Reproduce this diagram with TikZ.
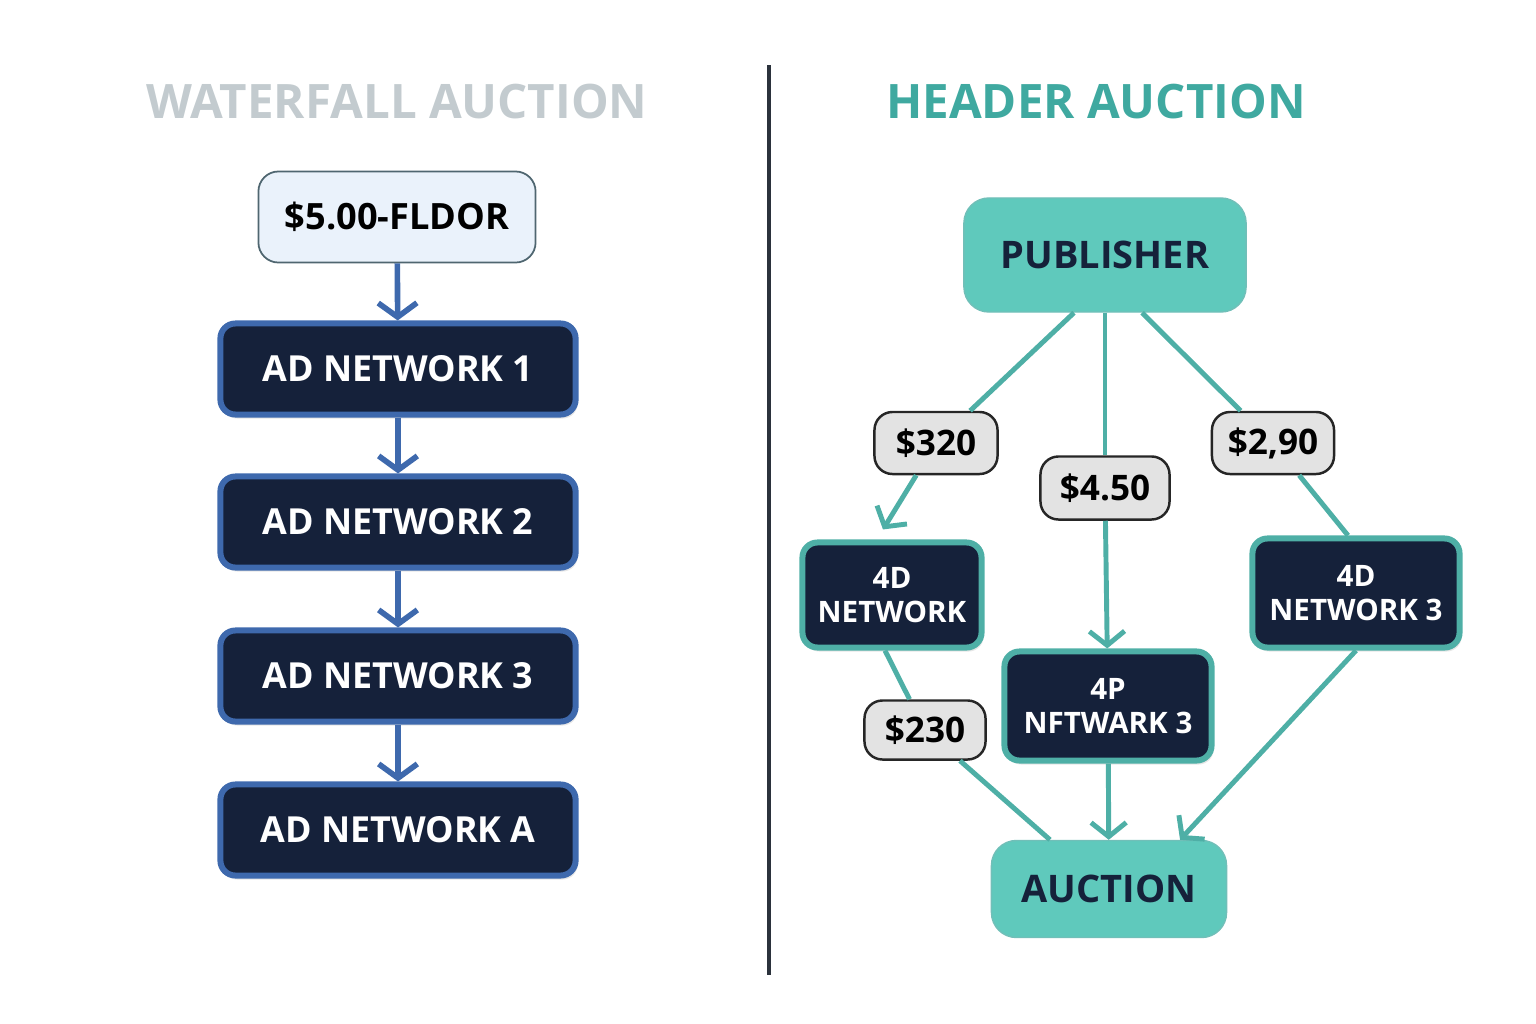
\documentclass[tikz,border=0pt]{standalone}
\usepackage{fontspec}
\setmainfont{Open Sans}
\usetikzlibrary{arrows.meta,shadows}

\definecolor{titlegray}{HTML}{C3CBCF}
\definecolor{headteal}{HTML}{3FA9A0}
\definecolor{darkfill}{HTML}{15213A}
\definecolor{blueedge}{HTML}{3E69AD}
\definecolor{tealedge}{HTML}{4EAFA6}
\definecolor{tealfill}{HTML}{5FC9BC}
\definecolor{labelfill}{HTML}{E3E3E3}
\definecolor{floorfill}{HTML}{EAF2FB}
\definecolor{flooredge}{HTML}{4F6670}
\definecolor{divider}{HTML}{2B323C}

\begin{document}
\begin{tikzpicture}[x=0.01cm,y=-0.01cm,
  title/.style={font=\fontsize{13.5}{16}\selectfont\bfseries},
  adbox/.style={rounded corners=0.15cm, draw=blueedge, line width=0.06cm, fill=darkfill,
    text=white, minimum width=3.55cm, minimum height=0.91cm,
    font=\fontsize{10.2}{12}\selectfont\bfseries,
    drop shadow={opacity=0.2, shadow xshift=0.02cm, shadow yshift=-0.04cm}},
  netbox/.style={rounded corners=0.15cm, draw=tealedge, line width=0.06cm, fill=darkfill,
    text=white, align=center, font=\fontsize{8.4}{9.8}\selectfont\bfseries,
    drop shadow={opacity=0.2, shadow xshift=0.02cm, shadow yshift=-0.04cm}},
  tealbox/.style={rounded corners=0.25cm, draw=tealedge!80, line width=0.4pt, fill=tealfill,
    text=darkfill, font=\fontsize{10.8}{13}\selectfont\bfseries},
  price/.style={rounded corners=0.18cm, draw=black!85, line width=0.7pt, fill=labelfill,
    text=black, font=\fontsize{10}{12}\selectfont\bfseries},
  barrow/.style={draw=blueedge, line width=1.6pt, -{Straight Barb[length=4pt,width=11pt]}},
  tline/.style={draw=tealedge, line width=1.4pt},
  tarrow/.style={tline, -{Straight Barb[length=4pt,width=10pt]}}]
\useasboundingbox (0,0) rectangle (1536,1024);

% titles and divider
\node[title, text=titlegray] (wtitle) at (397,102) {WATERFALL AUCTION};
\node[title, text=headteal] (htitle) at (1096,102) {HEADER AUCTION};
\draw[divider, line width=0.04cm] (769,65) -- (769,975);

% waterfall side
\node[rounded corners=0.2cm, draw=flooredge, line width=0.5pt, fill=floorfill,
  minimum width=2.77cm, minimum height=0.91cm,
  font=\fontsize{10.3}{12}\selectfont\bfseries] (floor) at (397,217) {\$5.00-FLDOR};
\node[adbox] (net1) at (398,369) {AD NETWORK 1};
\node[adbox] (net2) at (398,522) {AD NETWORK 2};
\node[adbox] (net3) at (398,676) {AD NETWORK 3};
\node[adbox] (neta) at (398,830) {AD NETWORK A};
\path (floor) edge[barrow] (net1);
\path (net1) edge[barrow] (net2);
\path (net2) edge[barrow] (net3);
\path (net3) edge[barrow] (neta);

% header side
\node[tealbox, minimum width=2.82cm, minimum height=1.14cm] (pub) at (1105,255) {PUBLISHER};
\node[price, minimum width=1.23cm, minimum height=0.62cm] (l320) at (936,443) {\$320};
\node[price, minimum width=1.29cm, minimum height=0.63cm] (l450) at (1105,488) {\$4.50};
\node[price, minimum width=1.22cm, minimum height=0.62cm] (l290) at (1273,443) {\$2,90};
\node[netbox, minimum width=1.79cm, minimum height=1.05cm] (net4d) at (892,595) {4D\\NETWORK};
\node[netbox, minimum width=2.07cm, minimum height=1.09cm] (net4p) at (1108,706) {4P\\NFTWARK 3};
\node[netbox, minimum width=2.07cm, minimum height=1.09cm] (net4r) at (1356,593) {4D\\NETWORK 3};
\node[price, minimum width=1.21cm, minimum height=0.59cm] (l230) at (925,730) {\$230};
\node[tealbox, minimum width=2.35cm, minimum height=0.97cm] (auc) at (1109,889) {AUCTION};

\path ([xshift=-0.31cm]pub.south) edge[tline] (l320);
\path (l320) edge[tarrow] ([xshift=-0.09cm,yshift=0.1cm]net4d.north);
\path (pub.south) edge[tline] (l450);
\path (l450) edge[tarrow] (net4p);
\path ([xshift=0.37cm]pub.south) edge[tline] (l290);
\path (l290) edge[tline] ([xshift=-0.08cm]net4r.north);
\path ([xshift=-0.07cm]net4d.south) edge[tline] (l230);
\path (l230) edge[tline] ([xshift=-0.59cm]auc.north);
\path (net4p) edge[tarrow] (auc);
\path (net4r.south) edge[tarrow] ([xshift=0.71cm]auc.north);
\end{tikzpicture}
\end{document}
